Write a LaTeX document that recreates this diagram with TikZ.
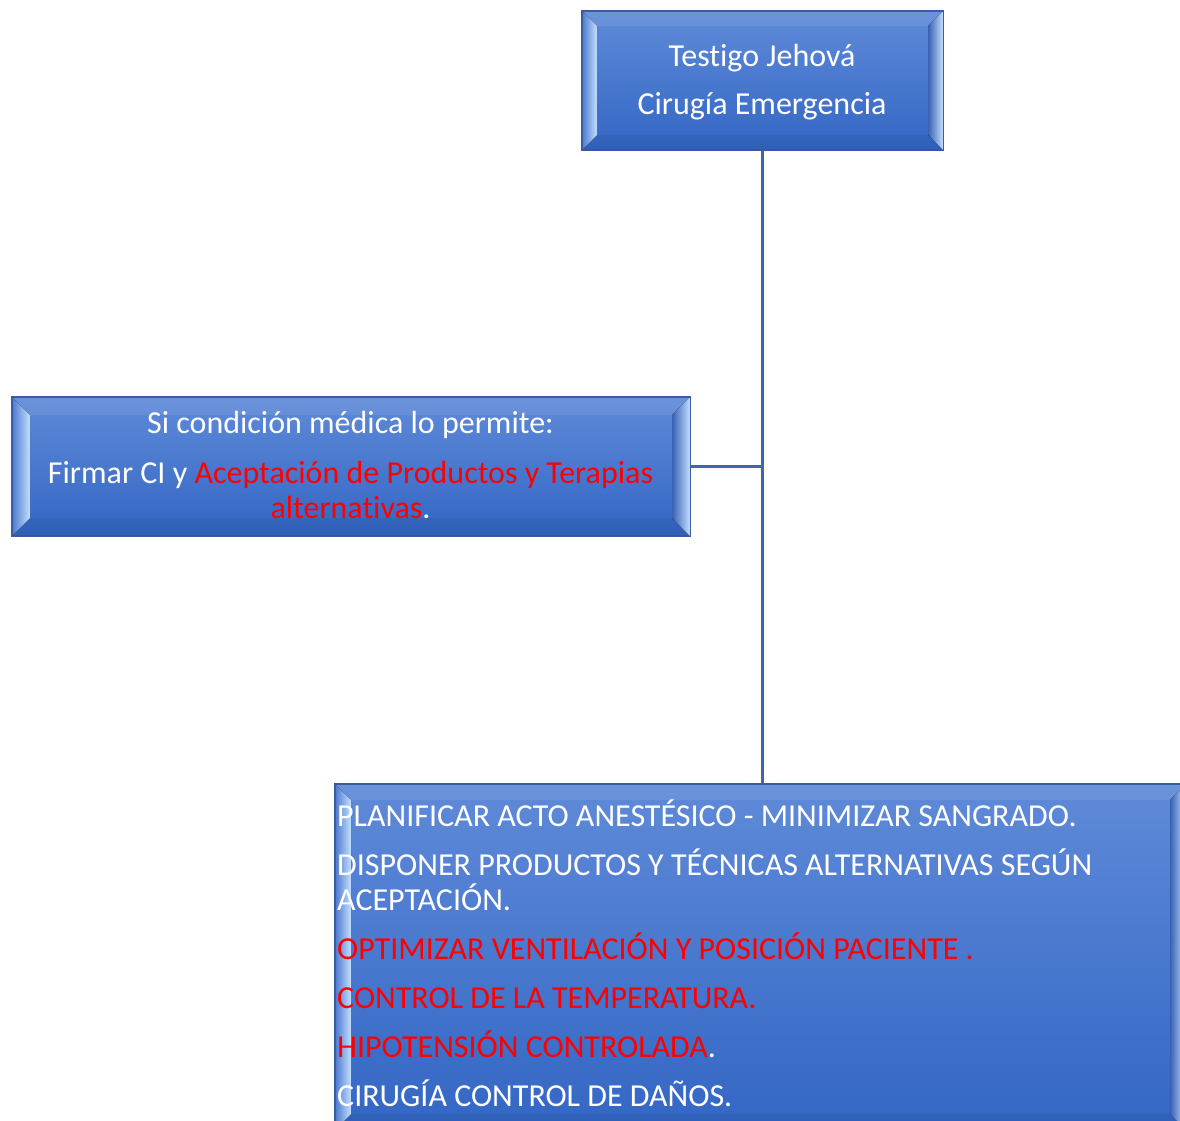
\documentclass[tikz,border=0pt]{standalone}
\usepackage{fontspec}
\setmainfont[Ligatures=NoCommon]{Carlito}
\usetikzlibrary{calc}
\definecolor{facetop}{HTML}{5F8AD8}
\definecolor{facebot}{HTML}{3366C4}
\definecolor{edgec}{HTML}{3B5C9E}
\definecolor{bevlight}{HTML}{C4E0FF}
\definecolor{bevmid}{HTML}{4B79CF}
\definecolor{bevdark}{HTML}{3A63B5}
\definecolor{linkc}{HTML}{3F66AE}
\definecolor{redtxt}{HTML}{FF0000}
\newcommand{\drawbevel}[2]{%
  \fill[left color=bevmid, right color=bevlight] (#1.north west) -- ($(#1.north west)+(#2,#2)$) -- ($(#1.south west)+(#2,-#2)$) -- (#1.south west) -- cycle;
  \fill[left color=bevdark, right color=bevlight] (#1.north east) -- ($(#1.north east)+(-#2,#2)$) -- ($(#1.south east)+(-#2,-#2)$) -- (#1.south east) -- cycle;
  \fill[white, opacity=0.08] (#1.north west) -- (#1.north east) -- ($(#1.north east)+(-#2,#2)$) -- ($(#1.north west)+(#2,#2)$) -- cycle;
  \fill[black, opacity=0.06] (#1.south west) -- (#1.south east) -- ($(#1.south east)+(-#2,-#2)$) -- ($(#1.south west)+(#2,-#2)$) -- cycle;
  \draw[edgec, line width=1.2pt] (#1.north west) rectangle (#1.south east);
}
\tikzset{
  box/.style={draw=edgec, line width=1.2pt, top color=facetop, bottom color=facebot, inner sep=0pt, rectangle, anchor=north west},
  txt/.style={font=\fontsize{32}{35}\selectfont, text=white, inner sep=0pt, anchor=base},
  txtl/.style={txt, anchor=base west},
  link/.style={draw=linkc, line width=3.5pt}
}
\begin{document}
\begin{tikzpicture}[x=1pt,y=-1pt]
\useasboundingbox (0,0) rectangle (1180,1120);
\fill[white] (0,0) rectangle (1180,1120);
\clip (0,0) rectangle (1180,1120);

% boxes
\node[box, minimum width=360pt, minimum height=138pt] (top) at (582,11) {};
\node[box, minimum width=677pt, minimum height=138pt] (mid) at (12,397) {};
\node[box, minimum width=850pt, minimum height=345pt] (bot) at (335,784) {};

% connectors
\draw[link] (top.south) -- (top.south |- bot.north);
\draw[link] (mid.east) -- (mid.east -| top.south);

\drawbevel{top}{15}
\drawbevel{mid}{18}
\drawbevel{bot}{16}

% top text
\node[txt] (t1) at (762,66) {Testigo Jehová};
\node[txt] (t2) at (762,114) {Cirugía Emergencia};

% middle text
\node[txt] (m1) at (350.5,433) {Si condición médica lo permite:};
\node[txt] (m2) at (350.5,483) {Firmar CI y \textcolor{redtxt}{Aceptación de Productos y Terapias}};
\node[txt] (m3) at (350.5,518) {\textcolor{redtxt}{alternativas}.};

% bottom text
\node[txtl] (b1) at (337,826) {PLANIFICAR ACTO ANESTÉSICO - MINIMIZAR SANGRADO.};
\node[txtl] (b2) at (337,875) {DISPONER PRODUCTOS Y TÉCNICAS ALTERNATIVAS SEGÚN};
\node[txtl] (b3) at (337,910) {ACEPTACIÓN.};
\node[txtl, text=redtxt] (b4) at (337,959) {OPTIMIZAR VENTILACIÓN Y POSICIÓN PACIENTE .};
\node[txtl, text=redtxt] (b5) at (337,1008) {CONTROL DE LA TEMPERATURA.};
\node[txtl] (b6) at (337,1057) {\textcolor{redtxt}{HIPOTENSIÓN CONTROLADA}.};
\node[txtl] (b7) at (337,1106) {CIRUGÍA CONTROL DE DAÑOS.};
\end{tikzpicture}
\end{document}
